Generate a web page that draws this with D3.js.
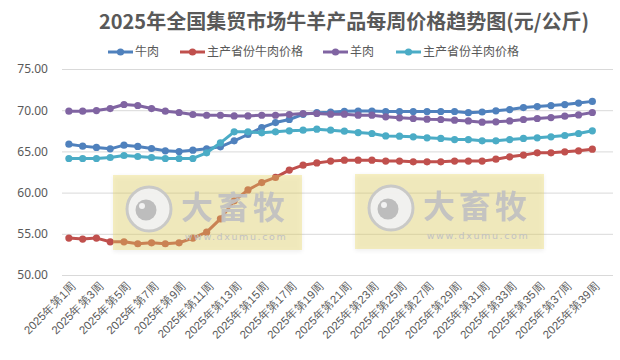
<!DOCTYPE html>
<html>
<head>
<meta charset="utf-8">
<script src="https://cdn.jsdelivr.net/npm/d3@7/dist/d3.min.js"></script>
<style>
  html, body { margin: 0; padding: 0; background: #fff; }
  svg { display: block; font-family: "Noto Sans CJK SC", "Noto Sans", sans-serif; }
</style>
</head>
<body>
<svg id="chart" width="620" height="360"></svg>
<script>
const title = "2025年全国集贸市场牛羊产品每周价格趋势图(元/公斤)";
const weeks = d3.range(1, 41).map(w => "2025年第" + w + "周");
const seriesNames = ["牛肉", "主产省份牛肉价格", "羊肉", "主产省份羊肉价格"];
const seriesColors = ["#4f81bd", "#c0504d", "#8064a2", "#4bacc6"];
const yTicks = [50, 55, 60, 65, 70, 75];

const beef = [65.88, 65.64, 65.48, 65.31, 65.76, 65.60, 65.35, 65.07, 64.99, 65.15,
  65.31, 65.56, 66.28, 67.05, 67.90, 68.50, 68.87, 69.50, 69.70, 69.76,
  69.86, 69.90, 69.90, 69.84, 69.84, 69.84, 69.84, 69.84, 69.84, 69.70,
  69.78, 69.92, 70.08, 70.32, 70.44, 70.56, 70.68, 70.87, 71.07];
const beefMain = [54.48, 54.36, 54.48, 54.03, 54.03, 53.79, 53.91, 53.79, 53.91, 54.48,
  55.20, 56.82, 59.00, 60.33, 61.22, 61.84, 62.73, 63.33, 63.60, 63.82,
  63.94, 63.94, 63.94, 63.82, 63.82, 63.74, 63.74, 63.74, 63.82, 63.82,
  63.82, 64.06, 64.34, 64.55, 64.83, 64.83, 64.95, 65.07, 65.27];
const mutton = [69.88, 69.88, 69.96, 70.20, 70.69, 70.57, 70.20, 69.88, 69.72, 69.48,
  69.39, 69.39, 69.31, 69.31, 69.39, 69.39, 69.48, 69.60, 69.60, 69.52,
  69.52, 69.40, 69.40, 69.20, 69.07, 68.99, 68.91, 68.87, 68.79, 68.70,
  68.55, 68.59, 68.70, 68.87, 68.99, 69.11, 69.27, 69.43, 69.72];
const muttonMain = [64.14, 64.14, 64.14, 64.26, 64.50, 64.38, 64.26, 64.14, 64.14, 64.14,
  64.83, 66.04, 67.37, 67.37, 67.25, 67.37, 67.50, 67.58, 67.70, 67.58,
  67.45, 67.29, 67.17, 66.88, 66.85, 66.77, 66.65, 66.57, 66.44, 66.44,
  66.28, 66.28, 66.44, 66.57, 66.65, 66.77, 66.93, 67.17, 67.50];

const allSeries = [beef, beefMain, mutton, muttonMain];

const svg = d3.select("#chart");
const plotLeft = 62, plotRight = 613, plotTop = 69, plotBottom = 275;

const x = d3.scaleBand().domain(weeks).range([plotLeft, plotRight]);
const y = d3.scaleLinear().domain([50, 75]).range([plotBottom, plotTop]);
const cx = i => x(weeks[i]) + x.bandwidth() / 2;

// Title
svg.append("text").attr("x", 344).attr("y", 29).attr("text-anchor", "middle")
  .attr("font-size", 20).attr("font-weight", "bold").attr("fill", "#595959").text(title);

// Grid + y axis
const yAxis = d3.axisLeft(y).tickValues(yTicks).tickSize(-(plotRight - plotLeft)).tickFormat(d3.format(".2f"));
const gy = svg.append("g").attr("transform", `translate(${plotLeft},0)`).call(yAxis);
gy.select(".domain").remove();
gy.selectAll(".tick line").attr("stroke", "#d9d9d9").attr("stroke-width", 1);
gy.selectAll(".tick text").attr("x", -14).attr("fill", "#595959").attr("font-size", 12)
  .attr("font-family", "'Noto Sans', sans-serif");

// X axis labels
const xAxis = d3.axisBottom(x).tickValues(weeks.filter((d, i) => i % 2 === 0 && i < 39)).tickSize(0);
const gx = svg.append("g").attr("transform", `translate(0,${plotBottom})`).call(xAxis);
gx.select(".domain").remove();
gx.selectAll(".tick text")
  .attr("text-anchor", "end").attr("font-size", 11.5).attr("fill", "#595959")
  .attr("transform", "translate(5,9) rotate(-45)")
  .attr("dy", "0.35em").attr("y", 0).attr("x", 0);

// Lines
const line = d3.line().x((d, i) => cx(i)).y(d => y(d)).curve(d3.curveLinear);
allSeries.forEach((s, k) => {
  const g = svg.append("g");
  g.append("path").datum(s).attr("d", line).attr("fill", "none")
    .attr("stroke", seriesColors[k]).attr("stroke-width", 3)
    .attr("stroke-linejoin", "round").attr("stroke-linecap", "round");
  g.selectAll("circle").data(s).enter().append("circle")
    .attr("cx", (d, i) => cx(i)).attr("cy", d => y(d)).attr("r", 3.6)
    .attr("fill", seriesColors[k]);
});

// Legend
const legendX = [108, 180, 323, 396];
const lg = svg.append("g");
seriesNames.forEach((n, k) => {
  const g = lg.append("g").attr("transform", `translate(${legendX[k]},52)`);
  g.append("line").attr("x1", 0).attr("x2", 25).attr("stroke", seriesColors[k]).attr("stroke-width", 3);
  g.append("circle").attr("cx", 12.5).attr("r", 3.6).attr("fill", seriesColors[k]);
  g.append("text").attr("x", 27).attr("dy", "0.35em").attr("font-size", 12)
    .attr("fill", "#595959").text(n);
});

// Watermarks
const defs = svg.append("defs");
const f = defs.append("filter").attr("id", "sh").attr("x", "-10%").attr("y", "-10%").attr("width", "120%").attr("height", "130%");
f.append("feGaussianBlur").attr("stdDeviation", 2);
function watermark(x0, y0) {
  const g = svg.append("g").attr("transform", `translate(${x0},${y0})`);
  g.append("rect").attr("x", 0).attr("y", 1).attr("width", 189).attr("height", 76)
    .attr("fill", "#000").attr("opacity", 0.06).attr("filter", "url(#sh)");
  g.append("rect").attr("width", 189).attr("height", 75).attr("fill", "#eedd66").attr("opacity", 0.38);
  g.append("circle").attr("cx", 36).attr("cy", 34).attr("r", 22).attr("fill", "#f2f2f2")
    .attr("stroke", "#c8c8c8").attr("stroke-width", 3).attr("opacity", 0.95);
  g.append("circle").attr("cx", 33).attr("cy", 35).attr("r", 10.5).attr("fill", "#bdbdbd");
  g.append("circle").attr("cx", 29).attr("cy", 31).attr("r", 3).attr("fill", "#f2f2f2");
  g.append("text").attr("x", 122).attr("y", 44).attr("text-anchor", "middle")
    .attr("font-size", 32).attr("font-weight", "bold").attr("fill", "#c2c2c2").attr("opacity", 0.95)
    .attr("letter-spacing", 4).text("大畜牧");
  g.append("text").attr("x", 123).attr("y", 64.5).attr("text-anchor", "middle")
    .attr("font-size", 9.5).attr("fill", "#c2c2c2").attr("letter-spacing", 1.6)
    .attr("font-family", "'DejaVu Sans', sans-serif").text("www.dxumu.com");
}
watermark(113, 175);
watermark(355, 174);
</script>
</body>
</html>
